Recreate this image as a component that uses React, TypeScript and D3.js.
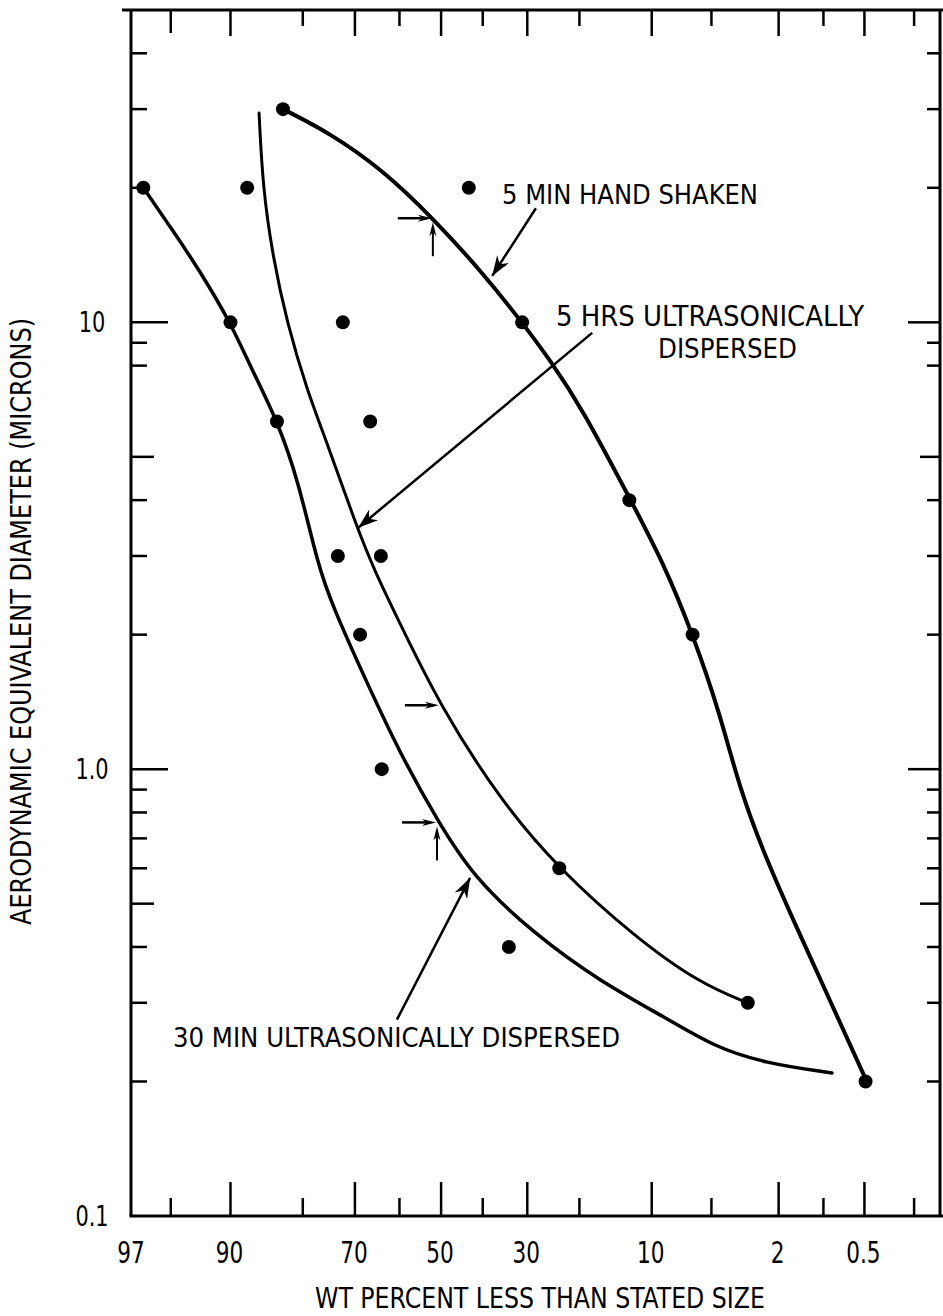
import React from 'react';
import * as d3 from 'd3';

// ---------- DATA (percent less than stated size, aerodynamic diameter in microns) ----------
// Measured points
const pts30MinPct = [96.5, 90.0, 84.1, 73.5, 68.9, 64.1, 34.0];
const pts30MinDia = [20, 10, 6, 3, 2, 1, 0.4];
const pts5HrPct = [88.1, 72.5, 66.7, 64.3, 23.6, 3.1];
const pts5HrDia = [20, 10, 6, 3, 0.6, 0.3];
const pts5MinPct = [83.2, 43.3, 31.1, 12.6, 6.3, 0.49];
const pts5MinDia = [30, 20, 10, 4, 2, 0.2];

// Hand-drawn fitted curves (traced)
const curve30MinPct = [96.5, 94.9, 93.1, 90.0, 87.7, 84.1, 80.8, 77.3, 74.5, 67.4, 59.9, 51.0, 42.3, 28.8, 16.7, 8.5, 4.9, 2.5, 0.87];
const curve30MinDia = [20, 16.1, 13.3, 10, 7.95, 6.05, 4.45, 2.85, 2.31, 1.56, 1.087, 0.77, 0.574, 0.43, 0.335, 0.277, 0.24, 0.22, 0.209];
const curve5HrPct = [86.6, 86.1, 84.7, 82.6, 79.3, 75.6, 69.6, 65.8, 59.9, 50.3, 36.0, 23.5, 11.9, 5.8, 3.1];
const curve5HrDia = [29.4, 20, 14.0, 10, 7.06, 5.37, 3.48, 2.79, 2.12, 1.39, 0.853, 0.595, 0.421, 0.332, 0.30];
const curve5MinPct = [83.2, 75.0, 63.8, 52.0, 40.6, 31.1, 25.4, 19.4, 12.5, 8.85, 6.3, 4.48, 3.45, 2.37, 1.52, 0.90, 0.48];
const curve5MinDia = [30, 26.5, 21.9, 17.1, 13.1, 10, 8.24, 6.37, 4.02, 2.91, 2.01, 1.33, 0.898, 0.623, 0.441, 0.304, 0.20];

// Axis ticks
const xLabelTicks = [97, 90, 70, 50, 30, 10, 2, 0.5];
const xLabels = ['97', '90', '70', '50', '30', '10', '2', '0.5'];
const xMajorTicks = [90, 70, 50, 30, 10, 2, 0.5];
const xMinorTicks = [95, 80, 60, 40, 20, 5, 1, 0.2];
const yMajorTicks = [10, 1];
const yMidTicks = [5, 0.5];
const yMinorTicks = [40, 30, 20, 9, 8, 4, 3, 2, 0.9, 0.8, 0.7, 0.6, 0.4, 0.3, 0.2];
const yLabelTicks = [10, 1, 0.1];
const yLabels = ['10', '1.0', '0.1'];

// 50% index markers (pct, dia, with vertical arrow)
const markPct = [52.0, 50.3, 51.0];
const markDia = [17.1, 1.39, 0.76];
const markVert = [true, false, true];

// Label arrows: tail and tip (pct, dia)
const arrowTailPct = [28.2, 17.9, 60.6];
const arrowTailDia = [18.0, 9.47, 0.275];
const arrowTipPct = [37.8, 69.3, 43.0];
const arrowTipDia = [12.7, 3.47, 0.571];

// ---------- helpers ----------
function probit(p: number): number {
  const a = [-3.969683028665376e1, 2.209460984245205e2, -2.759285104469687e2, 1.38357751867269e2, -3.066479806614716e1, 2.506628277459239];
  const b = [-5.447609879822406e1, 1.615858368580409e2, -1.556989798598866e2, 6.680131188771972e1, -1.328068155288572e1];
  const c = [-7.784894002430293e-3, -3.223964580411365e-1, -2.400758277161838, -2.549732539343734, 4.374664141464968, 2.938163982698783];
  const d = [7.784695709041462e-3, 3.224671290700398e-1, 2.445134137142996, 3.754408661907416];
  const plow = 0.02425;
  if (p < plow) {
    const q = Math.sqrt(-2 * Math.log(p));
    return (((((c[0] * q + c[1]) * q + c[2]) * q + c[3]) * q + c[4]) * q + c[5]) / ((((d[0] * q + d[1]) * q + d[2]) * q + d[3]) * q + 1);
  } else if (p <= 1 - plow) {
    const q = p - 0.5;
    const r = q * q;
    return ((((((a[0] * r + a[1]) * r + a[2]) * r + a[3]) * r + a[4]) * r + a[5]) * q) / (((((b[0] * r + b[1]) * r + b[2]) * r + b[3]) * r + b[4]) * r + 1);
  } else {
    const q = Math.sqrt(-2 * Math.log(1 - p));
    return -(((((c[0] * q + c[1]) * q + c[2]) * q + c[3]) * q + c[4]) * q + c[5]) / ((((d[0] * q + d[1]) * q + d[2]) * q + d[3]) * q + 1);
  }
}

const W = 943;
const H = 1316;
const L = 132;
const R = 940;
const T = 10;
const B = 1216;

const zScale = d3.scaleLinear().domain([probit(0.97), probit(0.0012)]).range([L, R]);
const x = (pct: number) => zScale(probit(pct / 100));
const y = d3.scaleLog().domain([0.1, 50]).range([B, T]);

const FONT = "'Liberation Sans Narrow', 'DejaVu Sans Condensed', 'DejaVu Sans', sans-serif";

const lineGen = d3
  .line<[number, number]>()
  .x((d) => x(d[0]))
  .y((d) => y(d[1]))
  .curve(d3.curveBasis);

const zip = (a: number[], b: number[]) => a.map((v, i) => [v, b[i]] as [number, number]);

function ArrowHead({ x1, y1, x2, y2, len = 14, w = 5 }: { x1: number; y1: number; x2: number; y2: number; len?: number; w?: number }) {
  const ang = Math.atan2(y2 - y1, x2 - x1);
  const ca = Math.cos(ang);
  const sa = Math.sin(ang);
  const bx = x2 - ca * len;
  const by = y2 - sa * len;
  const nx = x2 - ca * len * 0.7;
  const ny = y2 - sa * len * 0.7;
  const p = `M${x2},${y2} L${bx - sa * w},${by + ca * w} L${nx},${ny} L${bx + sa * w},${by - ca * w} Z`;
  return <path d={p} fill="#000" />;
}

export default function App() {
  const series = [
    { pct: pts30MinPct, dia: pts30MinDia },
    { pct: pts5HrPct, dia: pts5HrDia },
    { pct: pts5MinPct, dia: pts5MinDia },
  ];
  const curves = [
    { d: lineGen(zip(curve30MinPct, curve30MinDia)) || '', w: 3.5 },
    { d: lineGen(zip(curve5HrPct, curve5HrDia)) || '', w: 3 },
    { d: lineGen(zip(curve5MinPct, curve5MinDia)) || '', w: 4 },
  ];

  return (
    <svg width={W} height={H} style={{ position: 'absolute', left: 0, top: 0, background: '#fff' }} fontFamily={FONT}>
      <rect x={0} y={0} width={W} height={H} fill="#fff" />
      {/* frame */}
      <line x1={L - 1} y1={T} x2={L - 1} y2={B} stroke="#000" strokeWidth={3} />
      <line x1={L - 10} y1={T} x2={W} y2={T} stroke="#000" strokeWidth={3} />
      <line x1={L - 2.5} y1={B} x2={W} y2={B} stroke="#000" strokeWidth={3} />
      <line x1={R} y1={T} x2={R} y2={B} stroke="#000" strokeWidth={3} />

      {/* bottom ticks */}
      {xMajorTicks.map((t) => (
        <line key={'bM' + t} x1={x(t)} x2={x(t)} y1={B} y2={B - 34} stroke="#000" strokeWidth={2.5} />
      ))}
      {xMinorTicks.map((t) => (
        <line key={'bm' + t} x1={x(t)} x2={x(t)} y1={B} y2={B - 18} stroke="#000" strokeWidth={2.5} />
      ))}
      {/* top ticks */}
      {xMajorTicks.map((t) => (
        <line key={'tM' + t} x1={x(t)} x2={x(t)} y1={T} y2={T + 26} stroke="#000" strokeWidth={2.5} />
      ))}
      {xMinorTicks.map((t) => (
        <line key={'tm' + t} x1={x(t)} x2={x(t)} y1={T} y2={T + (t === 95 ? 23 : 16)} stroke="#000" strokeWidth={2.5} />
      ))}
      {/* left/right ticks */}
      {yMajorTicks.map((t) => (
        <g key={'yM' + t}>
          <line x1={L - 1} x2={L + 36} y1={y(t)} y2={y(t)} stroke="#000" strokeWidth={2.5} />
          <line x1={R} x2={R - 32} y1={y(t)} y2={y(t)} stroke="#000" strokeWidth={2.5} />
        </g>
      ))}
      {yMidTicks.map((t) => (
        <g key={'ym' + t}>
          <line x1={L - 1} x2={L + 22} y1={y(t)} y2={y(t)} stroke="#000" strokeWidth={2.5} />
          <line x1={R} x2={R - 20} y1={y(t)} y2={y(t)} stroke="#000" strokeWidth={2.5} />
        </g>
      ))}
      {yMinorTicks.map((t) => (
        <g key={'yn' + t}>
          <line x1={L - 1} x2={L + 15} y1={y(t)} y2={y(t)} stroke="#000" strokeWidth={2.5} />
          <line x1={R} x2={R - 13} y1={y(t)} y2={y(t)} stroke="#000" strokeWidth={2.5} />
        </g>
      ))}

      {/* tick labels (condensed) */}
      {xLabelTicks.map((t, i) => (
        <text
          key={'xl' + t}
          transform={`translate(${x(t) - 1},1263) scale(0.8,1)`}
          fontSize={30}
          textAnchor="middle"
          fill="#000"
        >
          {xLabels[i]}
        </text>
      ))}
      {yLabelTicks.map((t, i) => (
        <text
          key={'yl' + t}
          transform={`translate(92,${y(t) + 10}) scale(0.8,1)`}
          fontSize={29}
          textAnchor="middle"
          fill="#000"
        >
          {yLabels[i]}
        </text>
      ))}

      {/* axis titles */}
      <text x={315} y={1308} fontSize={28} textLength={450} lengthAdjust="spacingAndGlyphs" fill="#000">
        WT PERCENT LESS THAN STATED SIZE
      </text>
      <text
        transform="translate(31,925) rotate(-90)"
        x={0}
        y={0}
        fontSize={28}
        textLength={607}
        lengthAdjust="spacingAndGlyphs"
        fill="#000"
      >
        AERODYNAMIC EQUIVALENT DIAMETER (MICRONS)
      </text>

      {/* curves */}
      {curves.map((c, i) => (
        <path key={'c' + i} d={c.d} fill="none" stroke="#000" strokeWidth={c.w} strokeLinecap="round" />
      ))}

      {/* points */}
      {series.map((s, si) =>
        s.pct.map((p, i) => <circle key={'p' + si + '-' + i} cx={x(p)} cy={y(s.dia[i])} r={7} fill="#000" />)
      )}

      {/* 50% markers */}
      {markPct.map((p, i) => {
        const tx = x(p);
        const ty = y(markDia[i]);
        return (
          <g key={'mk' + i}>
            <line x1={tx - 35} y1={ty} x2={tx - 6} y2={ty} stroke="#000" strokeWidth={2.5} />
            <ArrowHead x1={tx - 35} y1={ty} x2={tx - 1} y2={ty} len={14} w={3.5} />
            {markVert[i] && (
              <>
                <line x1={tx} y1={ty + 38} x2={tx} y2={ty + 10} stroke="#000" strokeWidth={2} />
                <ArrowHead x1={tx} y1={ty + 38} x2={tx} y2={ty + 4} len={14} w={3.5} />
              </>
            )}
          </g>
        );
      })}

      {/* label arrows */}
      {arrowTailPct.map((p, i) => {
        const x1 = x(p);
        const y1 = y(arrowTailDia[i]);
        const x2 = x(arrowTipPct[i]);
        const y2 = y(arrowTipDia[i]);
        return (
          <g key={'la' + i}>
            <line x1={x1} y1={y1} x2={x2} y2={y2} stroke="#000" strokeWidth={2.5} />
            <ArrowHead x1={x1} y1={y1} x2={x2} y2={y2} len={20} w={7} />
          </g>
        );
      })}

      {/* curve labels */}
      <text x={502} y={204} fontSize={27} textLength={256} lengthAdjust="spacingAndGlyphs" fill="#000">
        5 MIN HAND SHAKEN
      </text>
      <text x={556} y={326} fontSize={28} textLength={308} lengthAdjust="spacingAndGlyphs" fill="#000">
        5 HRS ULTRASONICALLY
      </text>
      <text x={658} y={358} fontSize={27} textLength={139} lengthAdjust="spacingAndGlyphs" fill="#000">
        DISPERSED
      </text>
      <text x={173} y={1047} fontSize={27} textLength={447} lengthAdjust="spacingAndGlyphs" fill="#000">
        30 MIN ULTRASONICALLY DISPERSED
      </text>
    </svg>
  );
}
